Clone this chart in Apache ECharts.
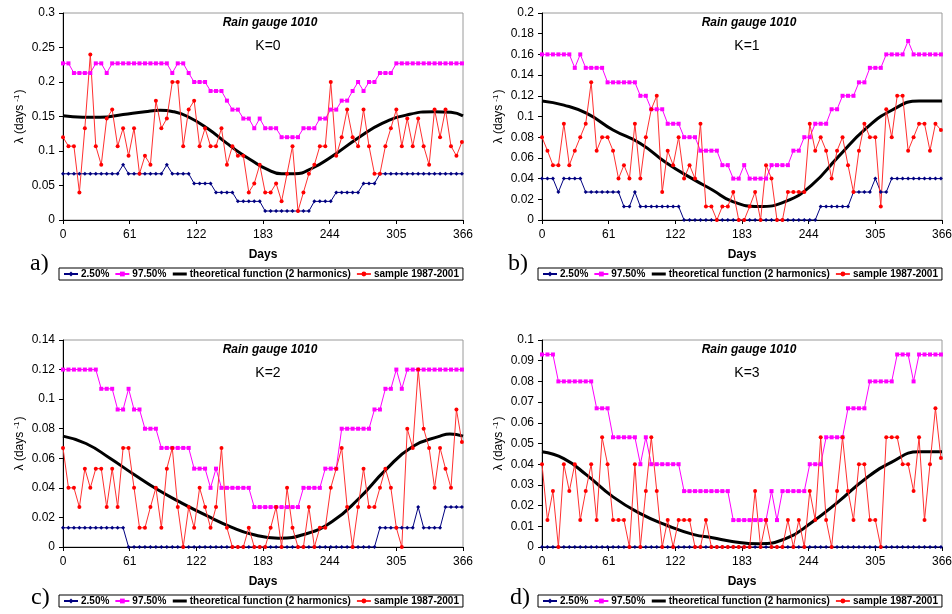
<!DOCTYPE html>
<html>
<head>
<meta charset="utf-8">
<title>Rain gauge 1010</title>
<script src="https://cdn.jsdelivr.net/npm/echarts@6/dist/echarts.min.js"></script>
<style>
  html, body { margin: 0; padding: 0; background: #fff; }
  #main { width: 952px; height: 614px; }
</style>
</head>
<body>
<div id="main"></div>
<script>
// days of the year for the 5-day windows
const days = [0, 5, 10, 15, 20, 25, 30, 35, 40, 45, 50, 55, 60, 65, 70, 75, 80, 85, 90, 95,
  100, 105, 110, 115, 120, 125, 130, 135, 140, 145, 150, 155, 160, 165, 170, 175, 180, 185, 190, 195,
  200, 205, 210, 215, 220, 225, 230, 235, 240, 245, 250, 255, 260, 265, 270, 275, 280, 285, 290, 295,
  300, 305, 310, 315, 320, 325, 330, 335, 340, 345, 350, 355, 360, 365];
const xTicks = [0, 61, 122, 183, 244, 305, 366];
const seriesNames = ["2.50%", "97.50%", "theoretical function (2 harmonics)", "sample 1987-2001"];

// a) K=0
const lowA = [0.067, 0.067, 0.067, 0.067, 0.067, 0.067, 0.067, 0.067, 0.067, 0.067, 0.067, 0.08, 0.067, 0.067, 0.067, 0.067, 0.067, 0.067, 0.067, 0.08,
  0.067, 0.067, 0.067, 0.067, 0.053, 0.053, 0.053, 0.053, 0.04, 0.04, 0.04, 0.04, 0.027, 0.027, 0.027, 0.027, 0.027, 0.013, 0.013, 0.013,
  0.013, 0.013, 0.013, 0.013, 0.013, 0.013, 0.027, 0.027, 0.027, 0.027, 0.04, 0.04, 0.04, 0.04, 0.04, 0.053, 0.053, 0.053, 0.067, 0.067,
  0.067, 0.067, 0.067, 0.067, 0.067, 0.067, 0.067, 0.067, 0.067, 0.067, 0.067, 0.067, 0.067, 0.067];
const highA = [0.227, 0.227, 0.213, 0.213, 0.213, 0.213, 0.227, 0.227, 0.213, 0.227, 0.227, 0.227, 0.227, 0.227, 0.227, 0.227, 0.227, 0.227, 0.227, 0.227,
  0.213, 0.227, 0.227, 0.213, 0.2, 0.2, 0.2, 0.187, 0.187, 0.187, 0.173, 0.16, 0.16, 0.147, 0.147, 0.133, 0.147, 0.133, 0.133, 0.133,
  0.12, 0.12, 0.12, 0.12, 0.133, 0.133, 0.133, 0.147, 0.147, 0.16, 0.16, 0.173, 0.173, 0.187, 0.2, 0.187, 0.2, 0.2, 0.213, 0.213,
  0.213, 0.227, 0.227, 0.227, 0.227, 0.227, 0.227, 0.227, 0.227, 0.227, 0.227, 0.227, 0.227, 0.227];
const sampleA = [0.12, 0.107, 0.107, 0.04, 0.133, 0.24, 0.107, 0.08, 0.147, 0.16, 0.107, 0.133, 0.093, 0.133, 0.067, 0.093, 0.08, 0.173, 0.133, 0.147,
  0.2, 0.2, 0.107, 0.16, 0.173, 0.107, 0.133, 0.107, 0.107, 0.133, 0.08, 0.107, 0.093, 0.093, 0.04, 0.053, 0.08, 0.04, 0.04, 0.053,
  0.027, 0.067, 0.107, 0.013, 0.04, 0.067, 0.08, 0.107, 0.107, 0.2, 0.093, 0.12, 0.16, 0.12, 0.107, 0.16, 0.107, 0.067, 0.067, 0.107,
  0.133, 0.16, 0.107, 0.147, 0.107, 0.147, 0.107, 0.08, 0.16, 0.12, 0.16, 0.107, 0.093, 0.113];
const theoA = [[0, 0.151], [18, 0.149], [34, 0.149], [55, 0.153], [75, 0.157], [89, 0.159], [101, 0.157], [114, 0.15],
  [132, 0.133], [150, 0.111], [163, 0.096], [172, 0.087], [186, 0.074], [200, 0.067], [212, 0.067], [228, 0.075],
  [246, 0.092], [271, 0.12], [292, 0.14], [314, 0.152], [339, 0.157], [355, 0.156], [366, 0.151]];

// b) K=1
const lowB = [0.04, 0.04, 0.04, 0.027, 0.04, 0.04, 0.04, 0.04, 0.027, 0.027, 0.027, 0.027, 0.027, 0.027, 0.027, 0.013, 0.013, 0.027, 0.013, 0.013,
  0.013, 0.013, 0.013, 0.013, 0.013, 0.013, 0, 0, 0, 0, 0, 0, 0, 0, 0, 0, 0, 0, 0, 0,
  0, 0, 0, 0, 0, 0, 0, 0, 0, 0, 0, 0.013, 0.013, 0.013, 0.013, 0.013, 0.013, 0.027, 0.027, 0.027,
  0.027, 0.04, 0.027, 0.027, 0.04, 0.04, 0.04, 0.04, 0.04, 0.04, 0.04, 0.04, 0.04, 0.04];
const highB = [0.16, 0.16, 0.16, 0.16, 0.16, 0.16, 0.147, 0.16, 0.147, 0.147, 0.147, 0.147, 0.133, 0.133, 0.133, 0.133, 0.133, 0.133, 0.12, 0.12,
  0.107, 0.107, 0.107, 0.093, 0.093, 0.093, 0.08, 0.08, 0.08, 0.067, 0.067, 0.067, 0.067, 0.053, 0.053, 0.04, 0.04, 0.053, 0.04, 0.04,
  0.04, 0.04, 0.053, 0.053, 0.053, 0.053, 0.067, 0.067, 0.08, 0.08, 0.093, 0.093, 0.093, 0.107, 0.107, 0.12, 0.12, 0.12, 0.133, 0.133,
  0.147, 0.147, 0.147, 0.16, 0.16, 0.16, 0.16, 0.173, 0.16, 0.16, 0.16, 0.16, 0.16, 0.16];
const sampleB = [0.08, 0.067, 0.053, 0.053, 0.093, 0.053, 0.067, 0.08, 0.093, 0.133, 0.067, 0.08, 0.08, 0.067, 0.04, 0.053, 0.04, 0.093, 0.04, 0.08,
  0.107, 0.12, 0.027, 0.067, 0.053, 0.08, 0.04, 0.053, 0.04, 0.093, 0.013, 0.013, 0, 0.013, 0.013, 0.027, 0, 0, 0.013, 0.027,
  0, 0.053, 0.04, 0, 0, 0.027, 0.027, 0.027, 0.027, 0.093, 0.067, 0.08, 0.067, 0.04, 0.067, 0.08, 0.053, 0.027, 0.067, 0.093,
  0.08, 0.08, 0.013, 0.107, 0.08, 0.12, 0.12, 0.067, 0.08, 0.093, 0.093, 0.067, 0.093, 0.087];
const theoB = [[0, 0.115], [20, 0.111], [41, 0.103], [65, 0.087], [90, 0.074], [114, 0.055], [139, 0.039], [156, 0.029],
  [174, 0.018], [198, 0.013], [223, 0.018], [247, 0.034], [271, 0.061], [296, 0.088], [320, 0.106], [345, 0.115], [366, 0.115]];

// c) K=2
const lowC = [0.013, 0.013, 0.013, 0.013, 0.013, 0.013, 0.013, 0.013, 0.013, 0.013, 0.013, 0.013, 0, 0, 0, 0, 0, 0, 0, 0,
  0, 0, 0, 0, 0, 0, 0, 0, 0, 0, 0, 0, 0, 0, 0, 0, 0, 0, 0, 0,
  0, 0, 0, 0, 0, 0, 0, 0, 0, 0, 0, 0, 0, 0, 0, 0, 0, 0, 0.013, 0.013,
  0.013, 0.013, 0.013, 0.013, 0.013, 0.027, 0.013, 0.013, 0.013, 0.013, 0.027, 0.027, 0.027, 0.027];
const highC = [0.12, 0.12, 0.12, 0.12, 0.12, 0.12, 0.12, 0.107, 0.107, 0.107, 0.093, 0.093, 0.107, 0.093, 0.093, 0.08, 0.08, 0.08, 0.067, 0.067,
  0.067, 0.067, 0.067, 0.067, 0.053, 0.053, 0.053, 0.04, 0.053, 0.04, 0.04, 0.04, 0.04, 0.04, 0.04, 0.027, 0.027, 0.027, 0.027, 0.027,
  0.027, 0.027, 0.027, 0.027, 0.04, 0.04, 0.04, 0.04, 0.053, 0.053, 0.053, 0.08, 0.08, 0.08, 0.08, 0.08, 0.08, 0.093, 0.093, 0.107,
  0.107, 0.12, 0.107, 0.12, 0.12, 0.12, 0.12, 0.12, 0.12, 0.12, 0.12, 0.12, 0.12, 0.12];
const sampleC = [0.067, 0.04, 0.04, 0.027, 0.053, 0.04, 0.053, 0.053, 0.027, 0.053, 0.027, 0.067, 0.067, 0.04, 0.013, 0.013, 0.027, 0.04, 0.013, 0.053,
  0.067, 0.027, 0, 0.027, 0.013, 0.04, 0.027, 0.013, 0.027, 0.067, 0.013, 0, 0, 0, 0.013, 0, 0, 0, 0.013, 0.027,
  0, 0.04, 0.013, 0, 0, 0.027, 0, 0.013, 0.013, 0.04, 0.053, 0.067, 0.027, 0, 0.027, 0.053, 0.027, 0.027, 0.04, 0.053,
  0.04, 0.013, 0, 0.08, 0.067, 0.12, 0.08, 0.067, 0.04, 0.067, 0.053, 0.04, 0.093, 0.071];
const theoC = [[0, 0.075], [21, 0.07], [43, 0.06], [65, 0.049], [86, 0.039], [108, 0.03], [132, 0.021], [154, 0.0135],
  [172, 0.0088], [197, 0.006], [222, 0.0088], [246, 0.017], [271, 0.033], [295, 0.052], [320, 0.068], [345, 0.075],
  [354, 0.0765], [366, 0.075]];

// d) K=3
const lowD = [0, 0, 0, 0, 0, 0, 0, 0, 0, 0, 0, 0, 0, 0, 0, 0, 0, 0, 0, 0,
  0, 0, 0, 0, 0, 0, 0, 0, 0, 0, 0, 0, 0, 0, 0, 0, 0, 0, 0, 0,
  0, 0, 0, 0, 0, 0, 0, 0, 0, 0, 0, 0, 0, 0, 0, 0, 0, 0, 0, 0,
  0, 0, 0, 0, 0, 0, 0, 0, 0, 0, 0, 0, 0, 0];
const highD = [0.093, 0.093, 0.093, 0.08, 0.08, 0.08, 0.08, 0.08, 0.08, 0.08, 0.067, 0.067, 0.067, 0.053, 0.053, 0.053, 0.053, 0.053, 0.04, 0.053,
  0.04, 0.04, 0.04, 0.04, 0.04, 0.04, 0.027, 0.027, 0.027, 0.027, 0.027, 0.027, 0.027, 0.027, 0.027, 0.013, 0.013, 0.013, 0.013, 0.013,
  0.013, 0.013, 0.027, 0.013, 0.027, 0.027, 0.027, 0.027, 0.027, 0.04, 0.04, 0.04, 0.053, 0.053, 0.053, 0.053, 0.067, 0.067, 0.067, 0.067,
  0.08, 0.08, 0.08, 0.08, 0.08, 0.093, 0.093, 0.093, 0.08, 0.093, 0.093, 0.093, 0.093, 0.093];
const sampleD = [0.04, 0.013, 0.027, 0, 0.04, 0.027, 0.04, 0.013, 0.027, 0.04, 0.013, 0.053, 0.04, 0.013, 0.013, 0.013, 0, 0.04, 0, 0.027,
  0.053, 0.027, 0, 0.013, 0, 0.013, 0.013, 0.013, 0, 0, 0.013, 0, 0, 0, 0, 0, 0, 0, 0, 0.027,
  0, 0.013, 0, 0, 0, 0.013, 0, 0.013, 0, 0.027, 0.013, 0.053, 0.013, 0, 0.027, 0.053, 0.027, 0.013, 0.04, 0.04,
  0.013, 0.013, 0, 0.053, 0.053, 0.053, 0.04, 0.04, 0.027, 0.053, 0.013, 0.04, 0.067, 0.043];
const theoD = [[0, 0.046], [20, 0.0427], [41, 0.0347], [65, 0.0242], [90, 0.0161], [114, 0.0105], [139, 0.006], [156, 0.0045],
  [174, 0.0027], [198, 0.0016], [223, 0.004], [247, 0.012], [271, 0.0218], [296, 0.033], [320, 0.041], [345, 0.046], [366, 0.046]];

const yMax = [0.3, 0.2, 0.14, 0.1];
const yStep = [0.05, 0.02, 0.02, 0.01];
const kLabels = ["K=0", "K=1", "K=2", "K=3"];
const panelLabels = ["a)", "b)", "c)", "d)"];

// layout of the four panels (px)
const panels = [
  { left: 63, top: 13, legendTop: 268, tag: [30, 252] },
  { left: 542, top: 13, legendTop: 268, tag: [508, 252] },
  { left: 63, top: 340, legendTop: 595, tag: [31, 586] },
  { left: 542, top: 340, legendTop: 595, tag: [510, 586] }
];
const PW = 400, PH = 207;
const FONT = "Liberation Sans";

const lows = [lowA, lowB, lowC, lowD];
const highs = [highA, highB, highC, highD];
const samples = [sampleA, sampleB, sampleC, sampleD];
const theos = [theoA, theoB, theoC, theoD];

function zip(vals) {
  return days.map((d, i) => [d, vals[i]]);
}

const grid = [], xAxis = [], yAxis = [], series = [], legend = [], graphic = [];

panels.forEach((p, k) => {
  grid.push({
    left: p.left, top: p.top, width: PW, height: PH,
    show: true, borderColor: "#9a9a9a", borderWidth: 1,
    outerBoundsMode: "none"
  });
  xAxis.push({
    type: "value", gridIndex: k, min: 0, max: 366, interval: 61,
    name: "Days", nameLocation: "middle", nameGap: 29,
    nameTextStyle: { fontFamily: FONT, fontSize: 12, fontWeight: "bold", color: "#000" },
    axisLine: { show: true, onZero: false, lineStyle: { color: "#000", width: 1 } },
    axisTick: { show: true, length: 4, lineStyle: { color: "#000" } },
    axisLabel: { margin: 9, fontFamily: FONT, fontSize: 12, color: "#000" },
    splitLine: { show: false }
  });
  yAxis.push({
    type: "value", gridIndex: k, min: 0, max: yMax[k], interval: yStep[k],
    name: "{n|λ (days}{s|-1}{n|)}", nameLocation: "middle", nameGap: 36,
    nameTextStyle: {
      rich: {
        n: { fontFamily: FONT, fontSize: 12, color: "#000", lineHeight: 14 },
        s: { fontFamily: FONT, fontSize: 8, color: "#000", verticalAlign: "top", padding: [0, 1, 0, 3] }
      }
    },
    axisLine: { show: true, lineStyle: { color: "#000", width: 1 } },
    axisTick: { show: true, length: 4, lineStyle: { color: "#000" } },
    axisLabel: {
      margin: 8, fontFamily: FONT, fontSize: 12, color: "#000",
      formatter: (v) => String(+v.toFixed(4))
    },
    splitLine: { show: false }
  });

  series.push({
    name: seriesNames[0], type: "line", xAxisIndex: k, yAxisIndex: k,
    data: zip(lows[k]), symbol: "diamond", symbolSize: 4,
    color: "#000080", lineStyle: { width: 1 }
  });
  series.push({
    name: seriesNames[1], type: "line", xAxisIndex: k, yAxisIndex: k,
    data: zip(highs[k]), symbol: "rect", symbolSize: 4,
    color: "#ff00ff", lineStyle: { width: 1 }
  });
  series.push({
    name: seriesNames[2], type: "line", xAxisIndex: k, yAxisIndex: k,
    data: theos[k], symbol: "none", smooth: 0.5,
    color: "#000", lineStyle: { width: 3 }
  });
  series.push({
    name: seriesNames[3], type: "line", xAxisIndex: k, yAxisIndex: k,
    data: zip(samples[k]), symbol: "circle", symbolSize: 4,
    color: "#ff0000", lineStyle: { width: 1, color: "#ff3030" }
  });

  legend.push({
    // the curve entry shows only its line, no marker
    data: seriesNames.map((n, j) => (j === 2
      ? { name: n, itemStyle: { opacity: 0, borderWidth: 0 }, lineStyle: { width: 3, color: "#000" } }
      : { name: n, icon: "inherit" })),
    left: p.left - 4, top: p.legendTop,
    orient: "horizontal", padding: [1, 4, 1, 4], itemGap: 5,
    itemWidth: 14, itemHeight: 6,
    borderColor: "#000", borderWidth: 1, borderRadius: 0,
    selectedMode: false,
    textStyle: { fontFamily: FONT, fontSize: 10, fontWeight: "bold", color: "#000", padding: [0, 0, 0, -2] }
  });

  // title, K value and panel tag
  graphic.push({
    type: "text", x: p.left + PW / 2 + 7, y: p.top + 10,
    style: { text: "Rain gauge 1010", font: "italic bold 12px '" + FONT + "'", fill: "#000", textAlign: "center", textVerticalAlign: "middle" }
  });
  graphic.push({
    type: "text", x: p.left + PW / 2 + 5, y: p.top + 33,
    style: { text: kLabels[k], font: "14px '" + FONT + "'", fill: "#000", textAlign: "center", textVerticalAlign: "middle" }
  });
  graphic.push({
    type: "text", x: p.tag[0], y: p.tag[1],
    style: { text: panelLabels[k], font: "24px 'Liberation Serif'", fill: "#000" }
  });
});

const chart = echarts.init(document.getElementById("main"), null, { renderer: "canvas" });
chart.setOption({
  animation: false,
  backgroundColor: "#fff",
  grid, xAxis, yAxis, series, legend, graphic
});
</script>
</body>
</html>
